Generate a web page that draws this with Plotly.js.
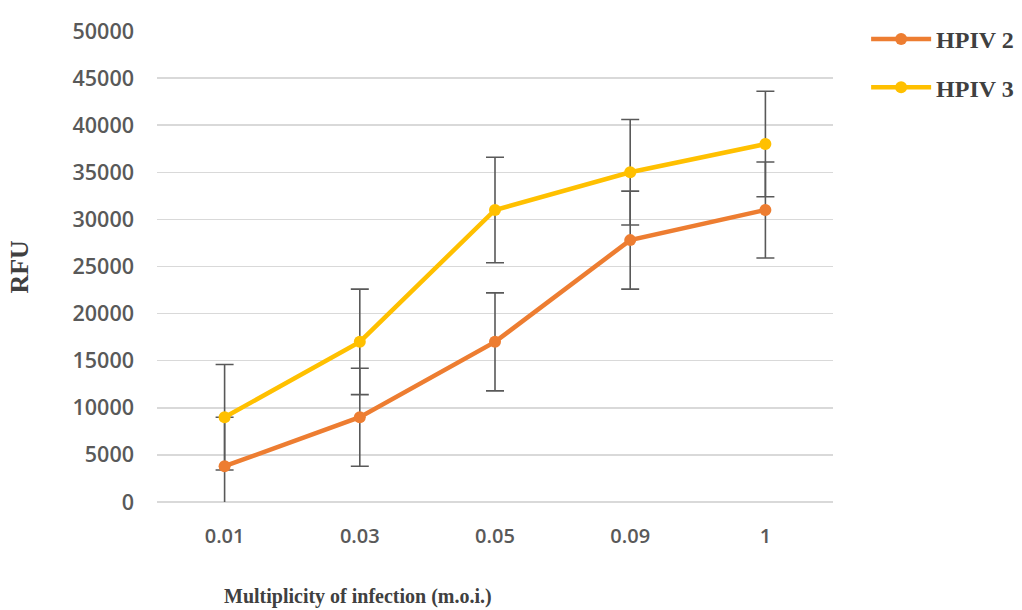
<!DOCTYPE html>
<html>
<head>
<meta charset="utf-8">
<script src="https://cdn.plot.ly/plotly-3.0.1.min.js"></script>
<style>html,body{margin:0;padding:0;background:#fff;}#chart{width:1022px;height:610px;}</style>
</head>
<body>
<div id="chart"></div>
<script>
const categories = ['0.01', '0.03', '0.05', '0.09', '1'];
const hpiv2 = [3800, 9000, 17000, 27800, 31000];
const hpiv2Err = [5200, 5200, 5200, 5200, 5100];
const hpiv3 = [9000, 17000, 31000, 35000, 38000];
const hpiv3Err = [5600, 5600, 5600, 5600, 5600];
const seriesNames = ['HPIV 2', 'HPIV 3'];
const seriesColors = ['#ED7D31', '#FFC000'];
const yTicks = [0, 5000, 10000, 15000, 20000, 25000, 30000, 35000, 40000, 45000, 50000];

const errStyle = {type: 'data', visible: true, color: '#595959', thickness: 1.6, width: 9};

function errTrace(y, err, name) {
  return {
    x: categories, y: y, name: name + ' error', type: 'scatter', mode: 'markers',
    showlegend: false, hoverinfo: 'skip',
    marker: {size: 1, opacity: 0},
    error_y: Object.assign({array: err}, errStyle)
  };
}
function lineTrace(y, name, color, group) {
  return {
    x: categories, y: y, name: name, type: 'scatter', mode: 'lines+markers',
    legendgroup: group,
    line: {color: color, width: 4.5},
    marker: {color: color, size: 12}
  };
}

const traces = [
  errTrace(hpiv2, hpiv2Err, seriesNames[0]),
  errTrace(hpiv3, hpiv3Err, seriesNames[1]),
  lineTrace(hpiv2, seriesNames[0], seriesColors[0], 'a'),
  lineTrace(hpiv3, seriesNames[1], seriesColors[1], 'b')
];

const layout = {
  width: 1022, height: 610,
  margin: {l: 157, r: 189, t: 31, b: 108, autoexpand: false},
  paper_bgcolor: '#ffffff', plot_bgcolor: '#ffffff',
  showlegend: true,
  legend: {
    x: 1.049, y: 1.03, xanchor: 'left', yanchor: 'top',
    font: {family: 'Liberation Serif, Times New Roman, serif', size: 24, color: '#404040', weight: 'bold'},
    itemwidth: 60, tracegroupgap: 14, traceorder: 'grouped'
  },
  xaxis: {
    type: 'category', range: [-0.5, 4.5], showgrid: false, zeroline: false, showline: false, ticks: '',
    ticklabelstandoff: 20,
    tickfont: {family: 'Open Sans, sans-serif', size: 20, color: '#595959', weight: 600}
  },
  yaxis: {
    range: [0, 50000], tickvals: yTicks, ticktext: yTicks.map(String),
    showgrid: true, gridcolor: '#d9d9d9', gridwidth: 1.5,
    zeroline: true, zerolinecolor: '#d9d9d9', zerolinewidth: 1.5,
    showline: false, ticks: '', ticklabelstandoff: 22,
    tickfont: {family: 'Open Sans, sans-serif', size: 21.5, color: '#595959', weight: 600}
  },
  annotations: [
    {
      text: 'RFU', xref: 'paper', yref: 'paper', x: -0.204, y: 0.5,
      xanchor: 'center', yanchor: 'middle', textangle: -90, showarrow: false,
      font: {family: 'Liberation Serif, Times New Roman, serif', size: 26, color: '#404040', weight: 'bold'}
    },
    {
      text: 'Multiplicity of infection (m.o.i.)', xref: 'paper', yref: 'paper', x: 0.297, y: -0.2,
      xanchor: 'center', yanchor: 'middle', showarrow: false,
      font: {family: 'Liberation Serif, Times New Roman, serif', size: 20, color: '#404040', weight: 'bold'}
    }
  ]
};

Plotly.newPlot('chart', traces, layout, {displayModeBar: false, staticPlot: true});
</script>
</body>
</html>
